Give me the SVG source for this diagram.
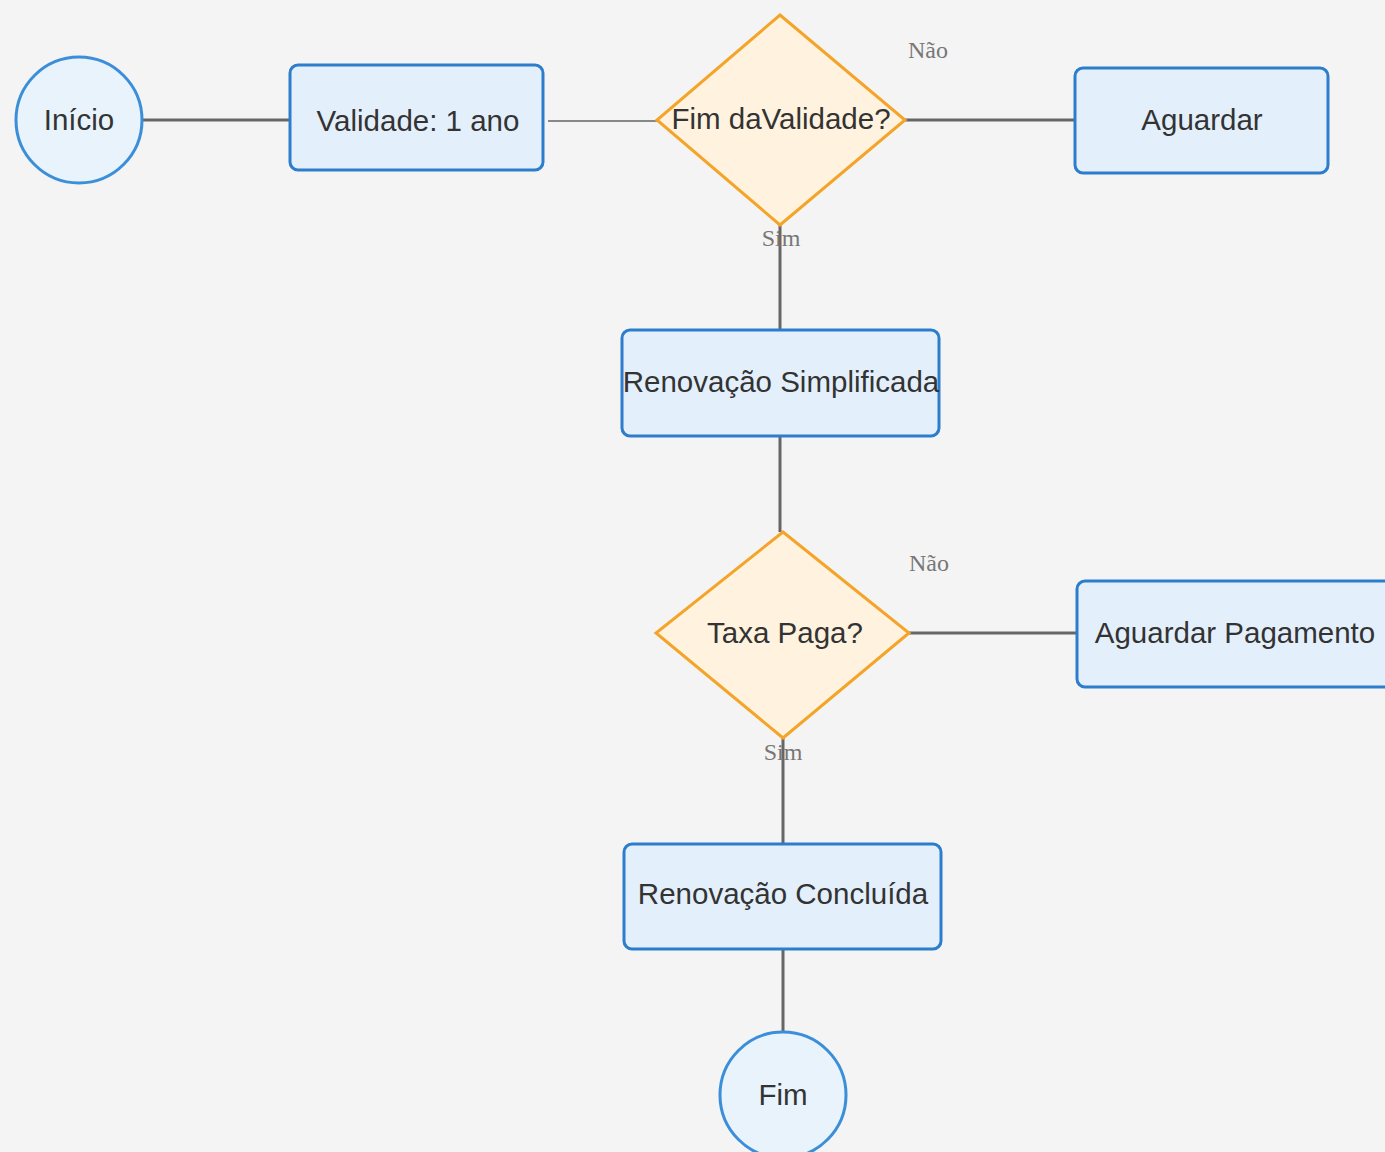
<svg xmlns="http://www.w3.org/2000/svg" width="1385" height="1152" viewBox="0 0 1385 1152">
<style>
.bg{fill:#f4f4f4}
.term{fill:#e8f3fc;stroke:#3b8fd8;stroke-width:3}
.proc{fill:#e3f0fc;stroke:#2c7dcc;stroke-width:3}
.dec{fill:#fff2de;stroke:#f4a428;stroke-width:3;stroke-linejoin:miter}
.t{font-family:"Liberation Sans",Arial,sans-serif;font-size:29.5px;fill:#333;text-anchor:middle;dominant-baseline:central}
.lbl{font-family:"Liberation Serif","Times New Roman",serif;font-size:24px;fill:#777;text-anchor:middle;dominant-baseline:central}
.c{stroke:#666;stroke-width:3;fill:none}
</style>
<rect class="bg" x="0" y="0" width="1385" height="1152"/>
<g id="connectors">
<line class="c" x1="143" y1="120" x2="290" y2="120"/>
<line class="c" x1="548" y1="121" x2="657" y2="121" style="stroke:#888;stroke-width:2"/>
<line class="c" x1="905" y1="120" x2="1075" y2="120"/>
<line class="c" x1="780" y1="225" x2="780" y2="330"/>
<line class="c" x1="780" y1="436" x2="780" y2="532"/>
<line class="c" x1="909" y1="633" x2="1077" y2="633"/>
<line class="c" x1="783" y1="738" x2="783" y2="844"/>
<line class="c" x1="783" y1="949" x2="783" y2="1032"/>
</g>
<g id="inicio"><circle class="term" cx="79" cy="120" r="63"/><text class="t" x="79" y="119">Início</text></g>
<g id="validade"><rect class="proc" x="290" y="65" width="253" height="105" rx="8"/><text class="t" x="418" y="120">Validade: 1 ano</text></g>
<g id="fimValidade"><polygon class="dec" points="780,15 905,120 780,225 657,120"/><text class="t" x="781" y="118">Fim daValidade?</text></g>
<g id="aguardar"><rect class="proc" x="1075" y="68" width="253" height="105" rx="8"/><text class="t" x="1202" y="119">Aguardar</text></g>
<g id="renovacaoSimplificada"><rect class="proc" x="622" y="330" width="317" height="106" rx="8"/><text class="t" x="781" y="381">Renovação Simplificada</text></g>
<g id="taxaPaga"><polygon class="dec" points="783,532 909,633 783,738 656,633"/><text class="t" x="785" y="632">Taxa Paga?</text></g>
<g id="aguardarPagamento"><rect class="proc" x="1077" y="581" width="320" height="106" rx="8"/><text class="t" x="1235" y="632">Aguardar Pagamento</text></g>
<g id="renovacaoConcluida"><rect class="proc" x="624" y="844" width="317" height="105" rx="8"/><text class="t" x="783" y="893">Renovação Concluída</text></g>
<g id="fim"><circle class="term" cx="783" cy="1095" r="63"/><text class="t" x="783" y="1094">Fim</text></g>
<g id="labels">
<text class="lbl" x="928" y="50">Não</text>
<text class="lbl" x="781" y="238">Sim</text>
<text class="lbl" x="929" y="563">Não</text>
<text class="lbl" x="783" y="752">Sim</text>
</g>
</svg>
